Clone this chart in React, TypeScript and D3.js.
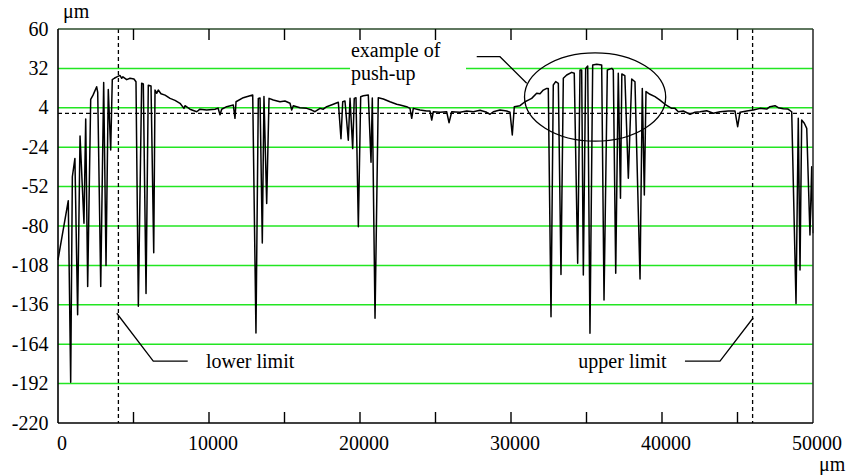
import React from 'react';
import * as d3 from 'd3';

// Surface profile (μm along, μm height)
const profile: [number, number][] = [
  [0,-104],[680,-62],[840,-191],[950,-45],[1120,-32],[1300,-143],[1460,-16],[1720,-78],[1835,-4],[1965,-123],
  [2165,10],[2320,13],[2560,19],[2630,15],[2830,-123],[3025,22],[3180,-108],[3330,17],[3490,-26],[3595,24],
  [3730,25],[3900,26],[4100,27],[4220,25],[4300,26],[4550,24],[4770,25],[5030,24.5],[5165,22.5],[5320,-137],
  [5540,21.5],[5650,21],[5830,-128],[5980,20],[6160,19.5],[6340,-99],[6425,16.6],[6540,14.3],[6640,16.6],[6820,14],
  [7090,13],[7420,10.7],[7750,9.3],[8080,7.2],[8340,3.6],[8410,5.5],[8740,3],[9190,1.2],[9400,3],[9850,2.4],
  [10400,3],[10600,3.8],[10730,-1],[10840,3],[11170,4.8],[11610,6],[11720,-3.5],[11790,8.3],[12270,11.2],[12715,12.6],
  [12895,13.1],[13110,-156],[13265,10.7],[13380,11],[13530,-92],[13640,12],[13820,-64],[13975,10.7],[14260,9.5],[14700,8.3],
  [15030,8.8],[15365,7.2],[15477,2.4],[15583,5.5],[16025,4.1],[16470,3.6],[16800,2.4],[17020,1.2],[17350,3.6],[17570,3],
  [17795,4.8],[18230,6.5],[18565,7.9],[18740,-18],[18855,8.3],[19005,8.8],[19225,-19],[19340,10.7],[19515,-25],[19620,10.7],
  [19735,11.2],[19890,-80.5],[20045,11.9],[20220,12.6],[20550,13.1],[20730,-34.7],[20815,11],[20995,-145.6],[21210,11.2],[21545,10.3],
  [21985,8.3],[22430,6.5],[22650,6],[23090,4.8],[23310,3.6],[23425,-3.5],[23530,3.6],[23975,2.4],[24415,1.7],[24636,1.7],
  [24750,-4.7],[24855,1.2],[25300,0.8],[25740,1.2],[25895,-6.6],[26075,1.2],[26620,0.8],[27065,1.7],[27505,1.2],[27950,2.2],
  [28390,0.8],[28610,-0.6],[28830,1.2],[29270,2.4],[29715,1.7],[29935,0.8],[30085,-15.3],[30220,4.8],[30595,5.5],[30925,8.3],
  [31145,9.5],[31370,10.7],[31700,14.3],[31920,14],[32140,16.6],[32365,17.8],[32470,17.8],[32650,-144.5],[32800,20.2],[32960,22.6],
  [33135,21.4],[33310,-114.4],[33465,25],[33690,27.3],[34020,29.2],[34190,28.5],[34415,-106.5],[34570,30.9],[34680,30.9],[34790,-114.8],
  [34945,32],[35080,33.7],[35230,-156.3],[35410,34.4],[35675,34.9],[36005,34.4],[36160,-132.6],[36380,30.9],[36670,32],[36775,30.9],
  [36935,-113.6],[37105,28.5],[37250,-60.3],[37340,28],[37540,26.8],[37770,-46.1],[37995,24.5],[38210,22.5],[38545,-117.7],[38695,17.8],
  [38830,-58],[38940,15.5],[39205,13.6],[39535,11.9],[39865,9.5],[40200,6.5],[40640,3.6],[40860,3.6],[41080,1.2],[41410,1.7],
  [41855,-0.6],[42185,0.8],[42515,1.2],[42960,1.9],[43400,0.1],[43840,1.2],[44390,1.7],[44835,1.7],[45010,-9.4],[45165,0.8],
  [45610,1.7],[46045,2.4],[46490,3.6],[46935,3.1],[47150,4.8],[47485,5.5],[47700,4.1],[48035,3.4],[48345,3.1],[48590,1.2],
  [48875,-135],[49025,-3.5],[49140,-111.3],[49250,-4.7],[49425,-7],[49585,-10.6],[49800,-86.4],[49915,-37.9],[50000,-85.2],
];

const yTickValues = [60, 32, 4, -24, -52, -80, -108, -136, -164, -192, -220];
const gridValues = [32, 4, -24, -52, -80, -108, -136, -164, -192];
const xMinorTicks = [5000, 10000, 15000, 20000, 25000, 30000, 35000, 40000, 45000];
const xLabelValues = [0, 10000, 20000, 30000, 40000, 50000];
const limitValues = [4000, 46000];
const referenceLevel = 0;

const FONT = "'Liberation Serif', 'Times New Roman', serif";

export default function App() {
  const W = 848, H = 475;
  const left = 58, right = 813, top = 29, bottom = 423;
  const x = d3.scaleLinear().domain([0, 50000]).range([left, right]);
  const y = d3.scaleLinear().domain([-220, 60]).range([bottom, top]);
  const line = d3.line<[number, number]>().x(d => x(d[0])).y(d => y(d[1]));
  const poly = d3.line<[number, number]>().x(d => x(d[0])).y(d => y(d[1]));

  // annotations in data coordinates
  const ell = { cx: 35570, cy: 11.7, rx: 4675, ry: 31.4 };
  const pushLeader: [number, number][] = [[27730, 40.3], [29270, 40.3], [31040, 21.4]];
  const lowerLeader: [number, number][] = [[3890, -142], [6310, -176], [8590, -176]];
  const upperLeader: [number, number][] = [[41520, -176], [43840, -176], [46045, -145.2]];

  const fs = 20;
  return (
    <svg width={W} height={H} style={{ position: 'absolute', left: 0, top: 0, background: '#fff' }}
      fontFamily={FONT} fontSize={fs}>
      <rect x={0} y={0} width={W} height={H} fill="#fff" />
      {gridValues.map(v => (
        <line key={v} x1={left} x2={right} y1={y(v)} y2={y(v)} stroke="#22e622" strokeWidth={1.5} />
      ))}
      {/* white box behind push-up label */}
      <rect x={x(19340)} y={y(53.6)} width={x(27020) - x(19340)} height={y(18) - y(53.6)} fill="#fff" />
      {/* reference dashed line */}
      <line x1={left} x2={right} y1={y(referenceLevel)} y2={y(referenceLevel)} stroke="#000" strokeWidth={1.3} strokeDasharray="4,3" />
      {limitValues.map(v => (
        <line key={v} x1={x(v)} x2={x(v)} y1={top} y2={bottom} stroke="#000" strokeWidth={1.3} strokeDasharray="4,3" />
      ))}
      {/* profile */}
      <path d={line(profile) || ''} fill="none" stroke="#000" strokeWidth={1.5} strokeLinejoin="round" />
      {/* frame */}
      <line x1={left} x2={right} y1={top} y2={top} stroke="#2a4a2a" strokeWidth={1.6} />
      <line x1={right} x2={right} y1={top} y2={bottom} stroke="#333" strokeWidth={1.6} />
      <line x1={left} x2={left} y1={top} y2={bottom} stroke="#000" strokeWidth={1.6} />
      <line x1={left} x2={right} y1={bottom} y2={bottom} stroke="#000" strokeWidth={1.6} />
      {xMinorTicks.map(v => (
        <g key={v}>
          <line x1={x(v)} x2={x(v)} y1={top} y2={top + 11} stroke="#000" strokeWidth={1.4} />
          <line x1={x(v)} x2={x(v)} y1={bottom} y2={bottom - 11} stroke="#000" strokeWidth={1.4} />
        </g>
      ))}
      {yTickValues.map(v => (
        <text key={v} x={48.5} y={y(v) + 2} dominantBaseline="middle" textAnchor="end" fill="#000">{v}</text>
      ))}
      {xLabelValues.map(v => (
        <text key={v} x={x(v) + 4} y={450} textAnchor="middle" fill="#000">{v}</text>
      ))}
      <text x={63} y={18} fill="#000">μm</text>
      <text x={819} y={471} fill="#000">μm</text>
      {/* push-up annotation */}
      <ellipse cx={x(ell.cx)} cy={y(ell.cy)} rx={x(ell.cx + ell.rx) - x(ell.cx)} ry={y(ell.cy - ell.ry) - y(ell.cy)}
        fill="none" stroke="#000" strokeWidth={1.3} />
      <path d={poly(pushLeader) || ''} fill="none" stroke="#000" strokeWidth={1.3} />
      <text x={x(19400)} y={y(39.9)} fill="#000">example of</text>
      <text x={x(19400)} y={y(23.8)} fill="#000">push-up</text>
      {/* limits */}
      <path d={poly(lowerLeader) || ''} fill="none" stroke="#000" strokeWidth={1.3} />
      <text x={x(9800)} y={y(-176) + 7} fill="#000">lower limit</text>
      <path d={poly(upperLeader) || ''} fill="none" stroke="#000" strokeWidth={1.3} />
      <text x={x(40310)} y={y(-176) + 7} textAnchor="end" fill="#000">upper limit</text>
    </svg>
  );
}
